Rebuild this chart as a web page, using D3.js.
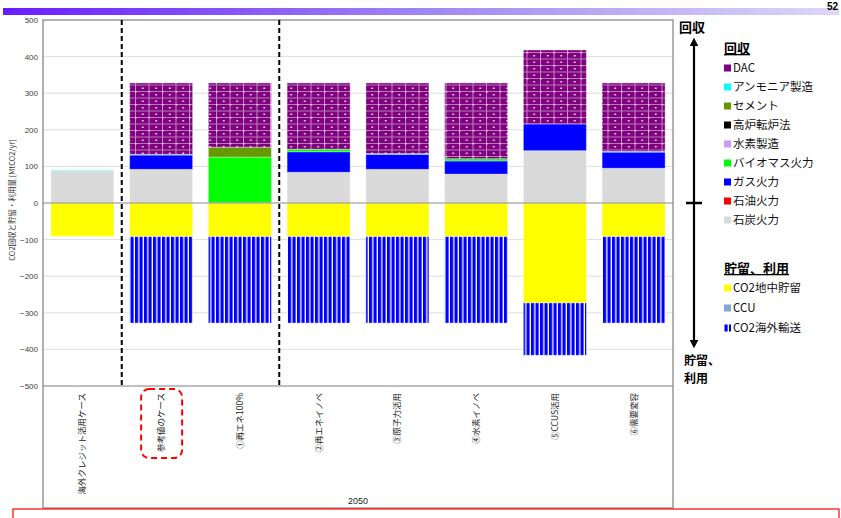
<!DOCTYPE html>
<html>
<head>
<meta charset="utf-8">
<script src="https://cdn.jsdelivr.net/npm/d3@7"></script>
<style>
  html, body { margin: 0; padding: 0; background: #fff; }
  svg { display: block; }
  text { font-family: "Noto Sans CJK JP", "Liberation Sans", sans-serif; }
</style>
</head>
<body>
<svg id="chart" width="841" height="518"></svg>
<script>
// Scenario categories (2050)
const categories = ["海外クレジット活用ケース", "参考値のケース", "①再エネ100%", "②再エネイノベ",
                    "③原子力活用", "④水素イノベ", "⑤CCUS活用", "⑥需要変容"];

// Capture (positive, MtCO2/yr)
const coal         = [89, 92, 0, 84, 92, 79, 143, 95];
const oil          = [0, 0, 0, 0, 0, 0, 0, 0];
const gas          = [0, 39, 1.5, 56, 41, 36, 73, 44];
const biomass      = [0, 0, 124, 7, 0, 6, 0, 0];
const hydrogen     = [0, 0, 0, 0, 0, 0, 0, 0];
const blastFurnace = [0, 0, 0, 0, 0, 0, 0, 0];
const cement       = [0, 0, 27, 0, 0, 0, 0, 0];
const ammonia      = [1.5, 2, 0, 0, 2, 0, 0, 2];
const dac          = [0, 195, 175.5, 181, 193, 207, 202, 187];

// Storage and use (negative, MtCO2/yr)
const storage      = [-91, -92, -92, -92, -92, -92, -273, -92];
const ccu          = [0, 0, 0, 0, 0, 0, 0, 0];
const overseas     = [0, -236, -236, -236, -236, -236, -143, -236];

const yTicks = [500, 400, 300, 200, 100, 0, -100, -200, -300, -400, -500];

const captureLegend = ["DAC", "アンモニア製造", "セメント", "高炉転炉法", "水素製造", "バイオマス火力", "ガス火力", "石油火力", "石炭火力"];
const storageLegend = ["CO2地中貯留", "CCU", "CO2海外輸送"];

const series = [
  { key: "coal", name: "石炭火力", values: coal, fill: "#dadada" },
  { key: "oil", name: "石油火力", values: oil, fill: "#ff0000" },
  { key: "gas", name: "ガス火力", values: gas, fill: "#0000ff" },
  { key: "biomass", name: "バイオマス火力", values: biomass, fill: "#00ff00" },
  { key: "hydrogen", name: "水素製造", values: hydrogen, fill: "#cc99ff" },
  { key: "blastFurnace", name: "高炉転炉法", values: blastFurnace, fill: "#000000" },
  { key: "cement", name: "セメント", values: cement, fill: "#669900" },
  { key: "ammonia", name: "アンモニア製造", values: ammonia, fill: "#00ffff" },
  { key: "dac", name: "DAC", values: dac, fill: "url(#dacPattern)" },
  { key: "storage", name: "CO2地中貯留", values: storage, fill: "#ffff00" },
  { key: "ccu", name: "CCU", values: ccu, fill: "#7fa6d6" },
  { key: "overseas", name: "CO2海外輸送", values: overseas, fill: "url(#stripePattern)" }
];
const legendFill = {};
series.forEach(s => legendFill[s.name] = s.fill);
legendFill["DAC"] = "#800080";

const svg = d3.select("#chart");

// ---- patterns ----
const defs = svg.append("defs");
const dp = defs.append("pattern").attr("id", "dacPattern")
  .attr("patternUnits", "userSpaceOnUse").attr("width", 13.5).attr("height", 13);
dp.append("rect").attr("width", 13.5).attr("height", 13).attr("fill", "#800080");
dp.append("rect").attr("x", 0).attr("y", 0).attr("width", 1).attr("height", 13).attr("fill", "#c58fc5");
dp.append("rect").attr("x", 0).attr("y", 0).attr("width", 13.5).attr("height", 1).attr("fill", "#b57ab5");
dp.append("rect").attr("x", 0).attr("y", 6.5).attr("width", 13.5).attr("height", 1).attr("fill", "#b57ab5");
dp.append("rect").attr("x", 7).attr("y", 3).attr("width", 1.5).attr("height", 1.5).attr("fill", "#ffffff");
dp.append("rect").attr("x", 7).attr("y", 9.5).attr("width", 1.5).attr("height", 1.5).attr("fill", "#ffffff");
dp.append("rect").attr("x", 0).attr("y", 0).attr("width", 1.5).attr("height", 1.5).attr("fill", "#f0e0f0");

const sp = defs.append("pattern").attr("id", "stripePattern")
  .attr("patternUnits", "userSpaceOnUse").attr("width", 4.5).attr("height", 10);
sp.append("rect").attr("width", 4.5).attr("height", 10).attr("fill", "#ffffff");
sp.append("rect").attr("width", 3.2).attr("height", 10).attr("fill", "#0000ff");

// ---- header band ----
const hg = defs.append("linearGradient").attr("id", "headGrad").attr("x1", 0).attr("x2", 1);
hg.append("stop").attr("offset", 0).attr("stop-color", "#6a1cff");
hg.append("stop").attr("offset", 0.5).attr("stop-color", "#9f86f2");
hg.append("stop").attr("offset", 1).attr("stop-color", "#dcd8f8");
svg.append("rect").attr("x", 3).attr("y", 8).attr("width", 836).attr("height", 7).attr("fill", "url(#headGrad)");
svg.append("text").attr("x", 838).attr("y", 10).attr("text-anchor", "end")
  .attr("font-weight", "bold").attr("font-size", 10)
  .style("font-family", "'Liberation Sans', sans-serif").text("52");

// ---- scales ----
const plot = { left: 43, right: 673, top: 20, bottom: 386 };
const x = d3.scaleBand().domain(categories).range([plot.left, plot.right]).paddingInner(0.2).paddingOuter(0.1);
const y = d3.scaleLinear().domain([-500, 500]).range([plot.bottom, plot.top]);

// gridlines
svg.append("g").selectAll("line").data(yTicks.filter(t => t !== 0 && Math.abs(t) !== 500)).join("line")
  .attr("x1", plot.left).attr("x2", plot.right)
  .attr("y1", d => y(d)).attr("y2", d => y(d))
  .attr("stroke", "#dedede").attr("stroke-width", 1);

// stacked bars
const table = categories.map((c, i) => {
  const row = { category: c };
  series.forEach(s => row[s.key] = s.values[i]);
  return row;
});
const stack = d3.stack().keys(series.map(s => s.key))
  .order(d3.stackOrderNone).offset(d3.stackOffsetDiverging);
const layers = stack(table);

svg.append("g").selectAll("g").data(layers).join("g")
  .attr("fill", (d, i) => series[i].fill)
  .selectAll("rect").data(d => d.filter(p => p[1] - p[0] !== 0)).join("rect")
  .attr("x", d => x(d.data.category))
  .attr("width", x.bandwidth())
  .attr("y", d => y(Math.max(d[0], d[1])))
  .attr("height", d => Math.abs(y(d[0]) - y(d[1])))
  .attr("stroke", "rgba(255,255,255,0.35)").attr("stroke-width", 1);

// zero line
svg.append("line").attr("x1", plot.left).attr("x2", plot.right)
  .attr("y1", y(0)).attr("y2", y(0)).attr("stroke", "#8c8c8c").attr("stroke-width", 1.2);

// frame (plot + category area)
svg.append("rect").attr("x", plot.left).attr("y", plot.top)
  .attr("width", plot.right - plot.left).attr("height", 508 - plot.top)
  .attr("fill", "none").attr("stroke", "#7f7f7f").attr("stroke-width", 1.2);
svg.append("line").attr("x1", plot.left).attr("x2", plot.right)
  .attr("y1", plot.bottom).attr("y2", plot.bottom).attr("stroke", "#7f7f7f").attr("stroke-width", 1.2);

// dashed group separators
const step = x.step();
[1, 3].forEach(k => {
  const xs = x(categories[k]) - step * x.paddingInner() / 2;
  svg.append("line").attr("x1", xs).attr("x2", xs).attr("y1", plot.top).attr("y2", plot.bottom)
    .attr("stroke", "#000").attr("stroke-width", 2).attr("stroke-dasharray", "5,3");
});

// y axis
const yAxis = d3.axisLeft(y).tickValues(yTicks).tickSize(0).tickPadding(5);
const ya = svg.append("g").attr("transform", `translate(${plot.left},0)`).call(yAxis);
ya.select(".domain").remove();
ya.selectAll("text").attr("font-size", 8).attr("fill", "#404040")
  .style("font-family", "'Liberation Sans', Arial, sans-serif");

svg.append("text").attr("transform", `translate(15,${y(0) - 3}) rotate(-90)`)
  .attr("text-anchor", "middle").attr("font-size", 7.5).attr("fill", "#333")
  .text("CO2回収と貯留・利用量 [MtCO2/yr]");

// category labels (rotated)
svg.append("g").selectAll("text").data(categories).join("text")
  .attr("transform", d => `translate(${x(d) + x.bandwidth() / 2 + 3},${plot.bottom + 7}) rotate(-90)`)
  .attr("text-anchor", "end").attr("font-size", 8.5).attr("fill", "#222")
  .text(d => d);

// highlight around the reference case label
svg.append("rect")
  .attr("x", x(categories[1]) + x.bandwidth() / 2 - 20).attr("y", 389)
  .attr("width", 41).attr("height", 69).attr("rx", 8)
  .attr("fill", "none").attr("stroke", "#ff0000").attr("stroke-width", 2).attr("stroke-dasharray", "6,4");

svg.append("text").attr("x", 358).attr("y", 504)
  .attr("text-anchor", "middle").attr("font-size", 9).attr("fill", "#222")
  .style("font-family", "'Liberation Sans', Arial, sans-serif").text("2050");

// bottom note box
svg.append("rect").attr("x", 13).attr("y", 509).attr("width", 826).attr("height", 30)
  .attr("fill", "none").attr("stroke", "#ff0000").attr("stroke-width", 1.2);

// direction arrow
const arrowDefs = defs.append("marker").attr("id", "arrowHead").attr("viewBox", "0 0 10 10")
  .attr("refX", 5).attr("refY", 5).attr("markerWidth", 4).attr("markerHeight", 4)
  .attr("orient", "auto-start-reverse");
arrowDefs.append("path").attr("d", "M0,0 L10,5 L0,10 z").attr("fill", "#000");
svg.append("line").attr("x1", 694).attr("x2", 694).attr("y1", 42).attr("y2", 344)
  .attr("stroke", "#000").attr("stroke-width", 2.2)
  .attr("marker-start", "url(#arrowHead)").attr("marker-end", "url(#arrowHead)");
svg.append("line").attr("x1", 686).attr("x2", 702).attr("y1", y(0)).attr("y2", y(0))
  .attr("stroke", "#000").attr("stroke-width", 2.5);
svg.append("text").attr("x", 679).attr("y", 32).attr("font-size", 13).attr("font-weight", "bold").text("回収");
svg.append("text").attr("x", 684).attr("y", 365).attr("font-size", 12).attr("font-weight", "bold").text("貯留、");
svg.append("text").attr("x", 684).attr("y", 383).attr("font-size", 12).attr("font-weight", "bold").text("利用");

// legend
function legendBlock(title, items, titleY, firstY, gap) {
  const g = svg.append("g");
  g.append("text").attr("x", 724).attr("y", titleY).attr("font-size", 13)
    .attr("font-weight", "bold").attr("text-decoration", "underline").text(title);
  items.forEach((name, i) => {
    const cy = firstY + i * gap;
    g.append("rect").attr("x", 724).attr("y", cy - 3.5).attr("width", 7).attr("height", 7)
      .attr("fill", legendFill[name]);
    g.append("text").attr("x", 733).attr("y", cy + 4.2).attr("font-size", 11.5).attr("fill", "#111").text(name);
  });
}
legendBlock("回収", captureLegend, 53, 68, 19);
legendBlock("貯留、利用", storageLegend, 273, 288, 20);
</script>
</body>
</html>
